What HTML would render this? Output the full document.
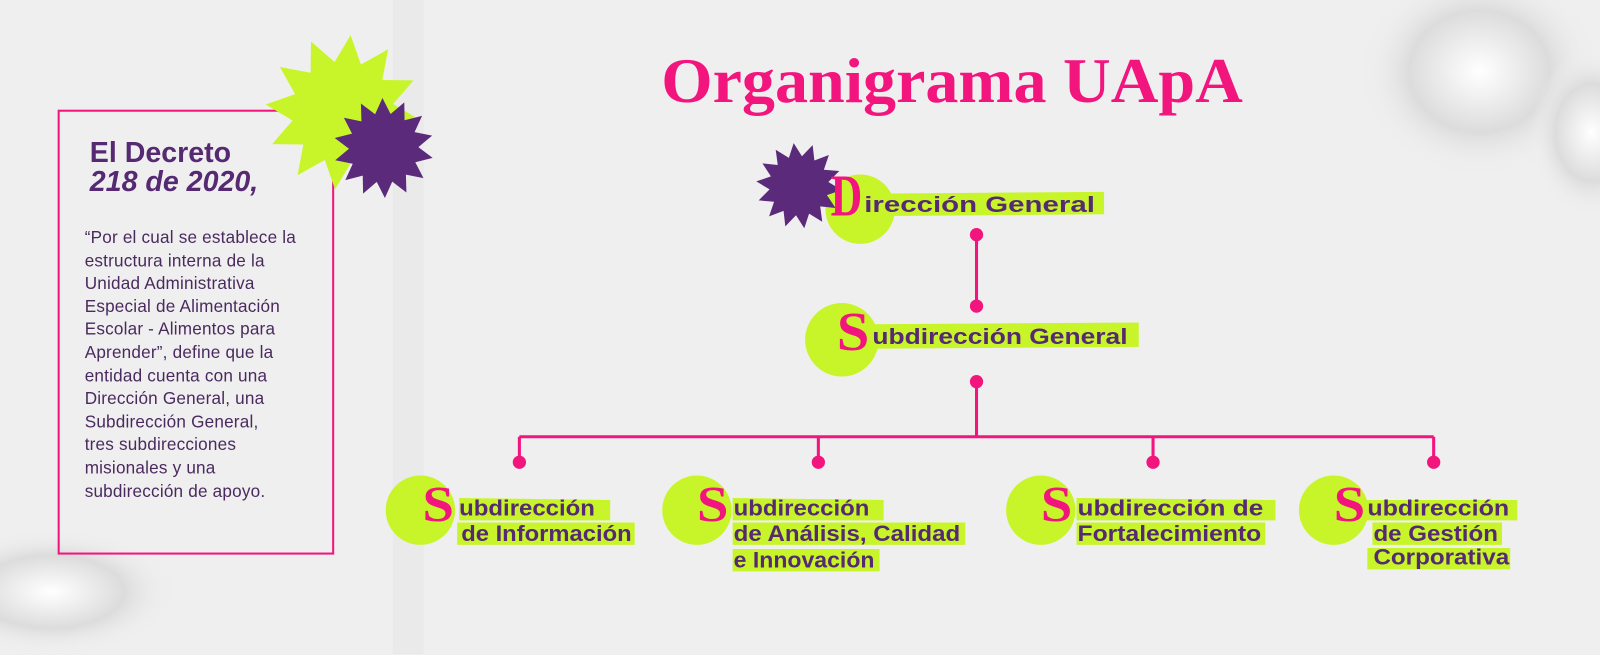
<!DOCTYPE html>
<html><head><meta charset="utf-8">
<style>
html,body{margin:0;padding:0;}
body{width:1600px;height:655px;overflow:hidden;background:#efefef;font-family:"Liberation Sans",sans-serif;position:relative;}
#w{position:absolute;left:0;top:0;width:1568px;height:641px;overflow:hidden;transform:scale(1.0204);transform-origin:0 0;}
svg{position:absolute;left:0;top:0;}
.t{font-family:"Liberation Sans",sans-serif;font-weight:bold;fill:#552a72;font-size:22px;}
.big{font-family:"Liberation Serif",serif;font-weight:bold;fill:#f2157e;}
.p{position:absolute;left:83px;top:222px;width:260px;font-size:16.8px;line-height:22.6px;color:#4a2a5e;white-space:nowrap;letter-spacing:0.2px;}
.h{position:absolute;left:88px;top:136px;font-size:28px;line-height:28px;font-weight:bold;color:#552a72;}
</style></head><body>
<div id="w">
<svg width="1568" height="641" viewBox="0 0 1568 641">
<defs>
<radialGradient id="cr" cx="50%" cy="50%" r="50%">
<stop offset="0" stop-color="#ffffff"/><stop offset="0.6" stop-color="#dcdcdc"/><stop offset="1" stop-color="#efefef" stop-opacity="0"/>
</radialGradient>
</defs>
<rect x="385" y="0" width="30" height="641" fill="#e6e6e6" opacity="0.6"/>
<ellipse cx="1450" cy="70" rx="115" ry="100" fill="url(#cr)"/>
<ellipse cx="1560" cy="130" rx="60" ry="80" fill="url(#cr)"/>
<ellipse cx="50" cy="580" rx="120" ry="60" fill="url(#cr)"/>
<text x="648" y="100" class="big" font-size="62" textLength="570" lengthAdjust="spacingAndGlyphs">Organigrama UApA</text>
<rect x="57.5" y="108.5" width="269" height="434" fill="none" stroke="#f2157e" stroke-width="2"/>
<g id="stars"></g>
<g stroke="#f2157e" stroke-width="3" fill="none">
<line x1="957" y1="230" x2="957" y2="300"/>
<line x1="957" y1="374" x2="957" y2="428"/>
<line x1="509" y1="428" x2="1405" y2="428"/>
<line x1="509" y1="428" x2="509" y2="453"/>
<line x1="802" y1="428" x2="802" y2="453"/>
<line x1="1130" y1="428" x2="1130" y2="453"/>
<line x1="1405" y1="428" x2="1405" y2="453"/>
</g>
<g fill="#f2157e">
<circle cx="957" cy="230" r="6.5"/><circle cx="957" cy="300" r="6.5"/><circle cx="957" cy="374" r="6.5"/>
<circle cx="509" cy="453" r="6.5"/><circle cx="802" cy="453" r="6.5"/><circle cx="1130" cy="453" r="6.5"/><circle cx="1405" cy="453" r="6.5"/>
</g>
<g fill="#c8f52a">
<circle cx="843" cy="205" r="34"/><polygon points="830,190 1082,188 1082,210 830,212"/>
<circle cx="825" cy="333" r="36"/><polygon points="820,318 1116,316 1116,340 820,342"/>
<circle cx="412" cy="500" r="34"/><polygon points="450,488 598,490 598,510 450,510"/><polygon points="448,512 622,512 622,534 448,534"/>
<circle cx="683" cy="500" r="34"/><polygon points="718,488 866,490 866,510 718,510"/><polygon points="718,512 946,512 946,534 718,534"/><polygon points="718,538 862,538 862,560 718,560"/>
<circle cx="1020" cy="500" r="34"/><polygon points="1055,488 1250,490 1250,510 1055,510"/><polygon points="1055,512 1240,512 1240,534 1055,534"/>
<circle cx="1307" cy="500" r="34"/><polygon points="1338,490 1487,490 1487,510 1338,510"/><polygon points="1345,512 1472,512 1472,534 1345,534"/><polygon points="1340,537 1480,537 1480,558 1340,558"/>
</g>
<g id="stars2"></g>
<text x="814" y="211" class="big" font-size="58" textLength="31" lengthAdjust="spacingAndGlyphs">D</text>
<text x="847" y="208" class="t" textLength="226" lengthAdjust="spacingAndGlyphs">irección General</text>
<text x="820" y="343" class="big" font-size="54" textLength="32" lengthAdjust="spacingAndGlyphs">S</text>
<text x="855" y="337" class="t" textLength="250" lengthAdjust="spacingAndGlyphs">ubdirección General</text>
<text x="414" y="511" class="big" font-size="50" textLength="31" lengthAdjust="spacingAndGlyphs">S</text>
<text x="450" y="505" class="t" textLength="133" lengthAdjust="spacingAndGlyphs">ubdirección</text><text x="452" y="530" class="t" textLength="167" lengthAdjust="spacingAndGlyphs">de Información</text>
<text x="683" y="511" class="big" font-size="50" textLength="31" lengthAdjust="spacingAndGlyphs">S</text>
<text x="719" y="505" class="t" textLength="133" lengthAdjust="spacingAndGlyphs">ubdirección</text><text x="719" y="530" class="t" textLength="222" lengthAdjust="spacingAndGlyphs">de Análisis, Calidad</text><text x="719" y="556" class="t" textLength="138" lengthAdjust="spacingAndGlyphs">e Innovación</text>
<text x="1020" y="511" class="big" font-size="50" textLength="31" lengthAdjust="spacingAndGlyphs">S</text>
<text x="1056" y="505" class="t" textLength="182" lengthAdjust="spacingAndGlyphs">ubdirección de</text><text x="1056" y="530" class="t" textLength="180" lengthAdjust="spacingAndGlyphs">Fortalecimiento</text>
<text x="1307" y="511" class="big" font-size="50" textLength="31" lengthAdjust="spacingAndGlyphs">S</text>
<text x="1340" y="505" class="t" textLength="139" lengthAdjust="spacingAndGlyphs">ubdirección</text><text x="1346" y="530" class="t" textLength="122" lengthAdjust="spacingAndGlyphs">de Gestión</text><text x="1346" y="553" class="t" textLength="133" lengthAdjust="spacingAndGlyphs">Corporativa</text>
</svg>
<div class="h">El Decreto<br><i>218 de 2020,</i></div>
<div class="p">“Por el cual se establece la<br>estructura interna de la<br>Unidad Administrativa<br>Especial de Alimentación<br>Escolar - Alimentos para<br>Aprender”, define que la<br>entidad cuenta con una<br>Dirección General, una<br>Subdirección General,<br>tres subdirecciones<br>misionales y una<br>subdirección de apoyo.</div>
</div>
<script>
function star(cx,cy,ro,ri,n,rot,fill){
 var p=[];for(var i=0;i<2*n;i++){var r=i%2?ri:ro;var a=rot+Math.PI*i/n;p.push((cx+r*Math.cos(a)).toFixed(1)+","+(cy+r*Math.sin(a)).toFixed(1));}
 return '<polygon fill="'+fill+'" points="'+p.join(' ')+'"/>';
}
document.getElementById('stars').innerHTML=star(336,110,76,50,12,0.1,'#c8f52a')+star(376,145,49,34,14,0.2,'#5b2a7a');
document.getElementById('stars2').innerHTML=star(783,182,42,29,14,0.1,'#5b2a7a');
</script>
</body></html>
